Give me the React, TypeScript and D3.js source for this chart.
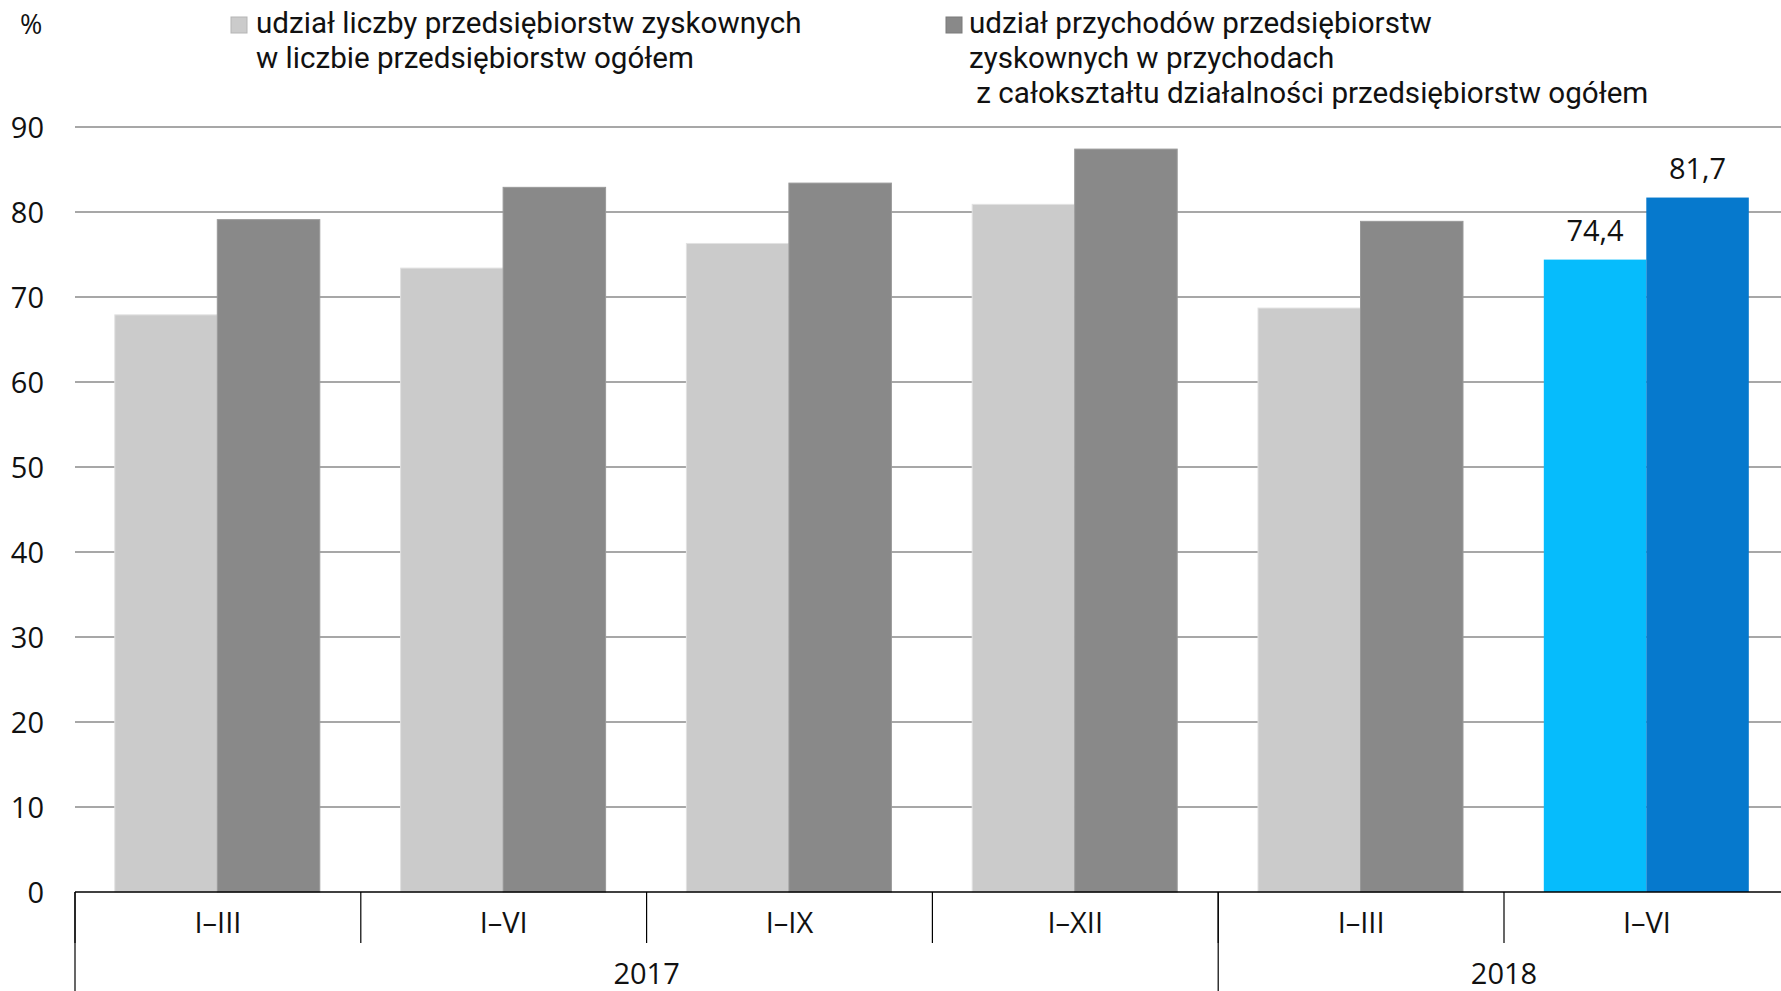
import React from "react";
import * as d3 from "d3";

const categories = ["I–III", "I–VI", "I–IX", "I–XII", "I–III", "I–VI"];
const years = ["2017", "2017", "2017", "2017", "2018", "2018"];
const yearGroups = ["2017", "2018"];
const shareCount = [67.9, 73.4, 76.3, 80.9, 68.7, 74.4];
const shareRevenue = [79.1, 82.9, 83.4, 87.4, 78.9, 81.7];
const yTicks = [0, 10, 20, 30, 40, 50, 60, 70, 80, 90];
const legend1 = ["udział liczby przedsiębiorstw zyskownych", "w liczbie przedsiębiorstw ogółem"];
const legend2 = [
  "udział przychodów przedsiębiorstw",
  "zyskownych w przychodach",
  " z całokształtu działalności przedsiębiorstw ogółem",
];

const W = 1781;
const H = 991;
const FONT = "'Open Sans', 'Noto Sans', sans-serif";
const LEGEND_FONT = "Roboto, 'Open Sans', sans-serif";
const TXT = "#111";

export default function App() {
  const x0 = 75;
  const bandW = 285.8;
  const x = d3
    .scaleBand<number>()
    .domain(categories.map((_, i) => i))
    .range([x0, x0 + bandW * categories.length])
    .padding(0);
  const inner = d3
    .scaleBand<string>()
    .domain(["count", "rev"])
    .range([39.8, bandW - 41])
    .padding(0);
  const y = d3.scaleLinear().domain([0, 90]).range([892, 127]);

  const lastIdx = categories.length - 1;
  const colCount = (i: number) => (i === lastIdx ? "#06bcfc" : "#cbcbcb");
  const colRev = (i: number) => (i === lastIdx ? "#0679cd" : "#898989");

  const groupBounds = yearGroups.map((yr) => {
    const idx = years.map((v, i) => (v === yr ? i : -1)).filter((i) => i >= 0);
    const start = x(idx[0])!;
    const end = x(idx[idx.length - 1])! + x.bandwidth();
    return { yr, start, end };
  });

  return (
    <svg
      width={W}
      height={H}
      style={{ position: "absolute", left: 0, top: 0, background: "#fff" }}
      fontFamily={FONT}
    >
      {yTicks
        .filter((t) => t > 0)
        .map((t) => (
          <line key={t} x1={x0} x2={W} y1={y(t)} y2={y(t)} stroke="#8a8a8a" strokeWidth={1.4} />
        ))}
      {yTicks.map((t) => (
        <text key={t} x={44} y={y(t) + 11} textAnchor="end" fontSize={29} fill={TXT}>
          {t}
        </text>
      ))}
      <text x={20} y={34} fontSize={27} fill={TXT}>
        %
      </text>

      {categories.map((c, i) => {
        const bx = x(i)!;
        return (
          <g key={i}>
            <rect
              x={bx + inner("count")!}
              y={y(shareCount[i])}
              width={inner.bandwidth()}
              height={y(0) - y(shareCount[i])}
              fill={colCount(i)}
              stroke={i === lastIdx ? "none" : "#e2e2e2"}
              strokeWidth={1}
            />
            <rect
              x={bx + inner("rev")!}
              y={y(shareRevenue[i])}
              width={inner.bandwidth()}
              height={y(0) - y(shareRevenue[i])}
              fill={colRev(i)}
              stroke={i === lastIdx ? "none" : "#999"}
              strokeWidth={1}
            />
          </g>
        );
      })}

      <text
        x={x(lastIdx)! + inner("count")! + inner.bandwidth() / 2}
        y={y(shareCount[lastIdx]) - 19}
        textAnchor="middle"
        fontSize={29}
        fill={TXT}
      >
        {d3.format(".1f")(shareCount[lastIdx]).replace(".", ",")}
      </text>
      <text
        x={x(lastIdx)! + inner("rev")! + inner.bandwidth() / 2}
        y={y(shareRevenue[lastIdx]) - 19}
        textAnchor="middle"
        fontSize={29}
        fill={TXT}
      >
        {d3.format(".1f")(shareRevenue[lastIdx]).replace(".", ",")}
      </text>

      <line x1={x0} x2={W} y1={y(0)} y2={y(0)} stroke="#000" strokeWidth={1.5} />
      {categories.map((c, i) => (
        <g key={"cat" + i}>
          <line x1={x(i)!} x2={x(i)!} y1={y(0)} y2={943} stroke="#000" strokeWidth={1.2} />
          <text
            x={x(i)! + x.bandwidth() / 2}
            y={933}
            textAnchor="middle"
            fontSize={29}
            fill={TXT}
          >
            {c}
          </text>
        </g>
      ))}
      {groupBounds.map((g) => (
        <g key={g.yr}>
          <line x1={g.start} x2={g.start} y1={y(0)} y2={H} stroke="#000" strokeWidth={1.2} />
          <text x={(g.start + g.end) / 2} y={984} textAnchor="middle" fontSize={29} fill={TXT}>
            {g.yr}
          </text>
        </g>
      ))}

      <rect x={231} y={17} width={16} height={16} fill="#cbcbcb" stroke="#b5b5b5" strokeWidth={1} />
      {legend1.map((l, i) => (
        <text
          key={l}
          x={256}
          y={33 + i * 35}
          fontSize={29.6}
          fontFamily={LEGEND_FONT}
          fill={TXT}
          style={{ whiteSpace: "pre" }}
        >
          {l}
        </text>
      ))}
      <rect x={946} y={17} width={16} height={16} fill="#898989" stroke="#7a7a7a" strokeWidth={1} />
      {legend2.map((l, i) => (
        <text
          key={l}
          x={969}
          y={33 + i * 35}
          fontSize={29.6}
          fontFamily={LEGEND_FONT}
          fill={TXT}
          style={{ whiteSpace: "pre" }}
        >
          {l}
        </text>
      ))}
    </svg>
  );
}
